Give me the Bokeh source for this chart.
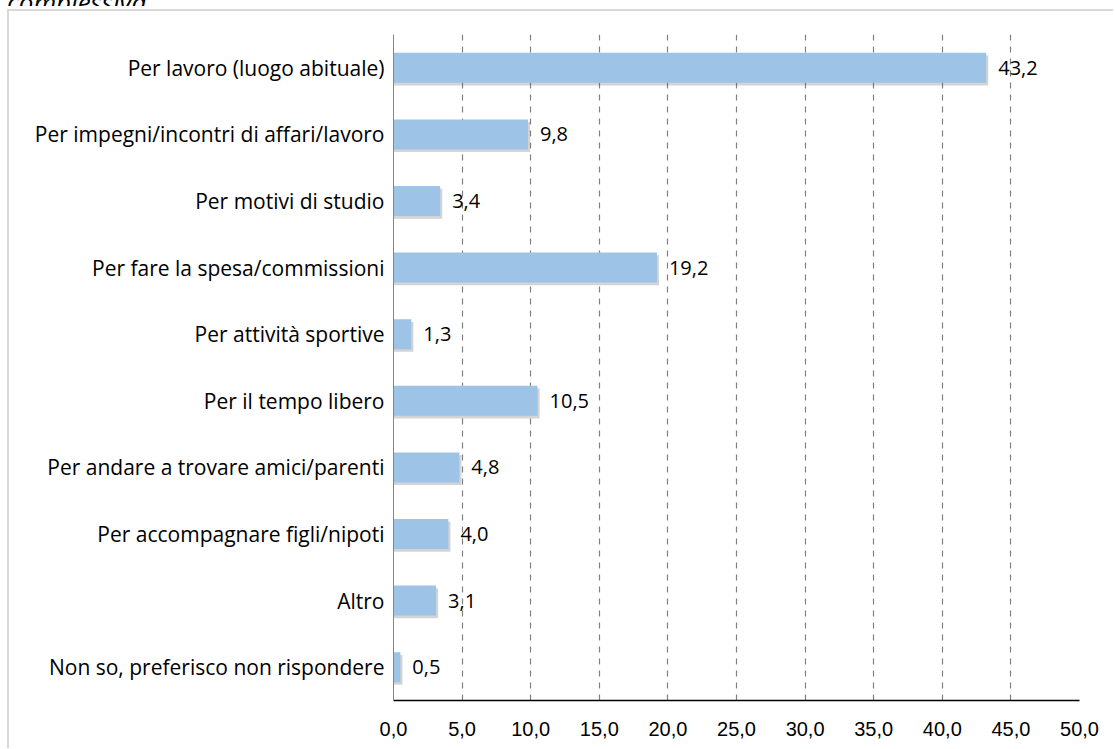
from bokeh.plotting import figure
from bokeh.models import (ColumnDataSource, FactorRange, Range1d, FixedTicker,
                          CustomJSTickFormatter, LabelSet, Div)
from bokeh.layouts import column
from bokeh.transform import dodge
from bokeh.embed import file_html
from bokeh.resources import INLINE
from bokeh.core.properties import value

categories = [
    "Per lavoro (luogo abituale)",
    "Per impegni/incontri di affari/lavoro",
    "Per motivi di studio",
    "Per fare la spesa/commissioni",
    "Per attività sportive",
    "Per il tempo libero",
    "Per andare a trovare amici/parenti",
    "Per accompagnare figli/nipoti",
    "Altro",
    "Non so, preferisco non rispondere",
]
values = [43.2, 9.8, 3.4, 19.2, 1.3, 10.5, 4.8, 4.0, 3.1, 0.5]
x_ticks = [0, 5, 10, 15, 20, 25, 30, 35, 40, 45, 50]
title_text = "complessiva"

labels = [f"{v:.1f}".replace(".", ",") for v in values]
source = ColumnDataSource(dict(cat=categories, val=values, lab=labels,
                               shadow=[v + 0.15 for v in values]))

head = Div(text=('<div style="margin-top:-21px;margin-left:7px;font-family:\'Open Sans\';'
                 'font-style:italic;font-size:26px;line-height:30px;color:#000;'
                 'white-space:nowrap">' + title_text + '</div>'),
           width=300, height=6, margin=0, styles={"overflow": "hidden"})

p = figure(width=1113, height=742, output_backend="svg", toolbar_location=None,
           y_range=FactorRange(factors=categories[::-1], range_padding=0),
           x_range=Range1d(0, 50), margin=0,
           min_border_left=393, min_border_right=34, min_border_top=28, min_border_bottom=48)
p.outline_line_color = None
p.border_fill_color = None

# chart-area border (light gray top and left lines) drawn on the host element
p.styles = {
    "background-image": "linear-gradient(#d9d9d9,#d9d9d9), linear-gradient(#d9d9d9,#d9d9d9)",
    "background-size": "1107px 2px, 2px 740px",
    "background-position": "7px 3px, 7px 3px",
    "background-repeat": "no-repeat",
}

# shadow
p.hbar(y=dodge("cat", -0.04, range=p.y_range), right="shadow", left=0, height=0.45,
       source=source, fill_color="#555555", fill_alpha=0.25, line_color=None)
p.hbar(y="cat", right="val", left=0, height=0.45, source=source,
       fill_color="#9DC3E6", line_color=None)

p.add_layout(LabelSet(x="val", y="cat", text="lab", source=source, x_offset=12,
                      text_baseline="middle", text_align="left",
                      text_font=value("Open Sans"), text_font_size="20px",
                      text_color="#000000"))

p.xaxis.ticker = FixedTicker(ticks=x_ticks)
p.xaxis.formatter = CustomJSTickFormatter(code="return tick.toFixed(1).replace('.', ',');")
p.xaxis.major_label_text_font = "Liberation Sans"
p.xaxis.major_label_text_font_size = "20px"
p.xaxis.major_label_text_color = "#000000"
p.xaxis.major_tick_line_color = None
p.xaxis.minor_tick_line_color = None
p.xaxis.axis_line_color = "#000000"
p.xaxis.axis_line_width = 1.5
p.xaxis.major_label_standoff = 15

p.yaxis.major_label_text_font = "Open Sans"
p.yaxis.major_label_text_font_size = "21px"
p.yaxis.major_label_text_color = "#000000"
p.yaxis.major_tick_line_color = None
p.yaxis.minor_tick_line_color = None
p.yaxis.axis_line_color = "#868686"
p.yaxis.major_label_standoff = 3

p.ygrid.grid_line_color = None
p.xgrid.grid_line_color = "#808080"
p.xgrid.grid_line_dash = "6 6"
p.xgrid.grid_line_width = 1.2

layout = column(head, p, spacing=0)
open("out.html", "w").write(file_html(layout, INLINE))
